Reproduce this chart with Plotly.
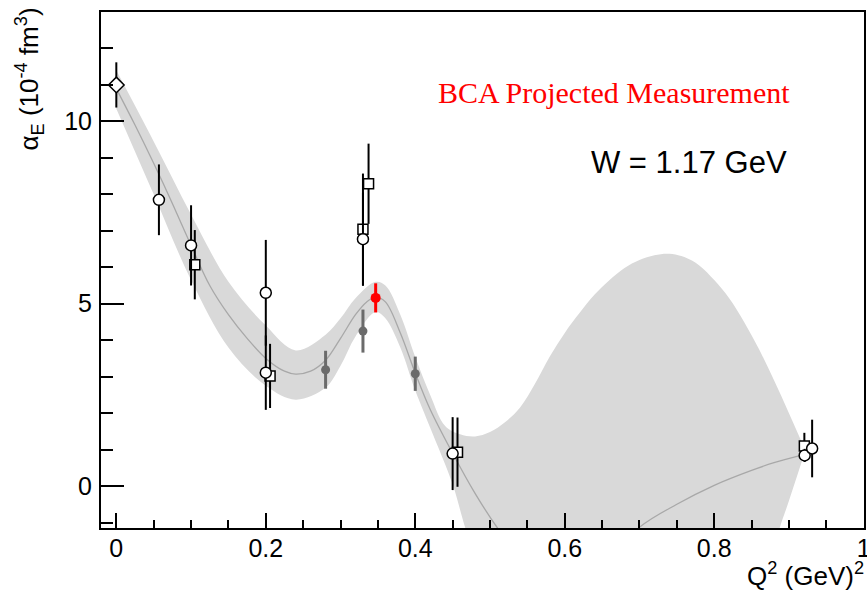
import plotly.graph_objects as go

# ---------------- data ----------------
# fit curve (centre line)
curve_x = [0.0, 0.025, 0.05, 0.075, 0.1, 0.125, 0.15, 0.175, 0.2, 0.225, 0.24, 0.26, 0.28, 0.3,
           0.32, 0.335, 0.347, 0.36, 0.38, 0.4, 0.42, 0.45, 0.48, 0.51, 0.55, 0.6, 0.65, 0.7,
           0.75, 0.8, 0.85, 0.88, 0.92]
curve_y = [10.9, 9.9, 8.85, 7.75, 6.6, 5.5, 4.7, 4.05, 3.5, 3.15, 3.07, 3.15, 3.45, 4.05,
           4.7, 5.05, 5.18, 5.05, 4.2, 3.1, 2.1, 0.9, -0.2, -1.15, -2.2, -2.7, -2.2, -1.13,
           -0.5, 0.02, 0.43, 0.64, 0.86]

# error band edges
band_up_x = [0.0, 0.05, 0.1, 0.15, 0.2, 0.24, 0.28, 0.3, 0.32, 0.347, 0.36, 0.38, 0.4, 0.42,
             0.44, 0.46, 0.48, 0.5, 0.52, 0.54, 0.56, 0.58, 0.6, 0.62, 0.64, 0.66, 0.68, 0.7,
             0.72, 0.74, 0.76, 0.78, 0.8, 0.82, 0.84, 0.86, 0.88, 0.9, 0.92]
band_up_y = [11.4, 9.45, 7.45, 5.6, 4.4, 3.72, 4.15, 4.6, 5.15, 5.6, 5.5, 4.7, 3.54, 2.5,
             1.65, 1.42, 1.36, 1.48, 1.75, 2.15, 2.8, 3.55, 4.2, 4.75, 5.25, 5.65, 5.98, 6.2,
             6.33, 6.37, 6.28, 6.05, 5.65, 5.15, 4.5, 3.75, 2.9, 2.0, 1.07]
band_lo_x = [0.0, 0.05, 0.1, 0.15, 0.2, 0.24, 0.28, 0.3, 0.32, 0.347, 0.36, 0.38, 0.4, 0.42,
             0.45, 0.467, 0.5, 0.55, 0.6, 0.65, 0.7, 0.75, 0.8, 0.85, 0.888, 0.9, 0.92]
band_lo_y = [10.35, 8.0, 5.65, 3.8, 2.75, 2.37, 2.7, 3.3, 4.1, 4.77, 4.6, 3.8, 2.62, 1.6,
             0.05, -1.15, -3.1, -5.5, -7.0, -7.8, -8.0, -7.2, -6.0, -3.5, -1.12, -0.4, 0.85]

# data points
diamond_x, diamond_y, diamond_err = [0.0], [11.0], [0.62]
circle_x = [0.057, 0.1, 0.2, 0.2, 0.33, 0.45, 0.921, 0.931]
circle_y = [7.85, 6.6, 5.3, 3.11, 6.77, 0.89, 0.84, 1.03]
circle_err = [0.97, 1.1, 1.45, 1.02, 1.28, 1.0, 0.18, 0.79]
square_x = [0.105, 0.2057, 0.33, 0.3375, 0.4565, 0.9206]
square_y = [6.07, 3.02, 7.04, 8.29, 0.93, 1.10]
square_err = [0.95, 0.88, 1.53, 1.1, 0.95, 0.36]
gray_x = [0.28, 0.33, 0.40]
gray_y = [3.19, 4.25, 3.08]
gray_err = [0.52, 0.59, 0.47]
bca_x, bca_y, bca_err = [0.347], [5.16], [0.4]

# ---------------- figure ----------------
fig = go.Figure()
band_color = "#d9d9d9"
fig.add_trace(go.Scatter(x=band_lo_x, y=band_lo_y, mode="lines", line=dict(width=0, shape="spline", color=band_color),
                         hoverinfo="skip", showlegend=False))
fig.add_trace(go.Scatter(x=band_up_x, y=band_up_y, mode="lines", fill="tonexty", fillcolor=band_color,
                         line=dict(width=0, shape="spline", color=band_color), hoverinfo="skip", showlegend=False))
fig.add_trace(go.Scatter(x=curve_x, y=curve_y, mode="lines", line=dict(width=1.3, shape="spline", color="#a8a8a8"),
                         showlegend=False))

def pts(x, y, err, symbol, size, fill, edge, ecolor, ethick, lw=1.5):
    fig.add_trace(go.Scatter(
        x=x, y=y, mode="markers", showlegend=False,
        marker=dict(symbol=symbol, size=size, color=fill, line=dict(color=edge, width=lw)),
        error_y=dict(type="data", array=err, visible=True, color=ecolor, thickness=ethick, width=0)))

pts(gray_x, gray_y, gray_err, "circle", 9, "#6b6b6b", "#6b6b6b", "#6b6b6b", 3, 0)
pts(diamond_x, diamond_y, diamond_err, "diamond", 12, "white", "black", "black", 2)
pts(square_x, square_y, square_err, "square", 10, "white", "black", "black", 2)
pts(circle_x, circle_y, circle_err, "circle", 11, "white", "black", "black", 2)
pts(bca_x, bca_y, bca_err, "circle", 10, "red", "red", "red", 3, 0)

font_sans = "Liberation Sans, Arial, Helvetica, sans-serif"
axis_common = dict(showgrid=False, zeroline=False, showline=True, linecolor="black", linewidth=2,
                   mirror=True, ticks="inside", tickcolor="black", tickwidth=2,
                   tickfont=dict(family=font_sans, size=25, color="black"), automargin=False)
fig.update_xaxes(range=[-0.0205, 1.0004], tick0=0, dtick=0.2, ticklen=15,
                 minor=dict(ticks="inside", dtick=0.05, tick0=0, ticklen=8, tickcolor="black", tickwidth=1.5),
                 ticklabelstandoff=-3, ticklabeloverflow="allow", **axis_common)
fig.update_yaxes(range=[-1.15, 13.0], tick0=0, dtick=5, ticklen=23,
                 minor=dict(ticks="inside", dtick=1, tick0=0, ticklen=12, tickcolor="black", tickwidth=1.5),
                 ticklabelstandoff=2, **axis_common)

W, H = 867, 594
L, R, T, B = 101, 3, 12, 66
pw, ph = W - L - R, H - T - B
def px(xp): return (xp - L) / pw
def py(yp): return (H - B - yp) / ph

fig.add_annotation(text="BCA Projected Measurement", xref="paper", yref="paper", x=px(614), y=py(92),
                   xanchor="center", yanchor="middle", showarrow=False,
                   font=dict(family="Liberation Serif, DejaVu Serif, serif", size=30, color="red"))
fig.add_annotation(text="W = 1.17 GeV", xref="paper", yref="paper", x=px(689), y=py(163),
                   xanchor="center", yanchor="middle", showarrow=False,
                   font=dict(family=font_sans, size=31, color="black"))
fig.add_annotation(text="α<sub>E</sub> (10<sup>-4</sup> fm<sup>3</sup>)", xref="paper", yref="paper",
                   x=px(30), y=py(6), xanchor="center", yanchor="top", textangle=-90, showarrow=False,
                   font=dict(family=font_sans, size=26, color="black"))
fig.add_annotation(text="Q<sup>2</sup> (GeV)<sup>2</sup>", xref="paper", yref="paper",
                   x=px(866), y=py(593), xanchor="right", yanchor="bottom", showarrow=False,
                   font=dict(family=font_sans, size=26, color="black"))

fig.update_layout(width=W, height=H, margin=dict(l=L, r=R, t=T, b=B),
                  plot_bgcolor="white", paper_bgcolor="white", showlegend=False)
fig.write_html("out.html", config={"displayModeBar": False},
               post_script="document.body.style.margin='0px';")
